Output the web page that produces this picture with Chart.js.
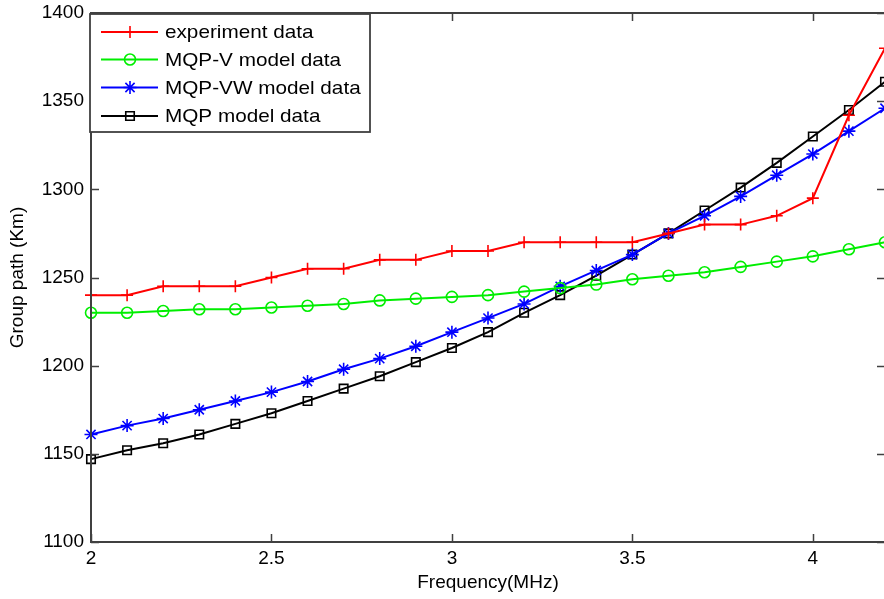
<!DOCTYPE html>
<html><head><meta charset="utf-8">
<script src="https://cdn.jsdelivr.net/npm/chart.js@4/dist/chart.umd.min.js"></script>
<style>
html,body{margin:0;padding:0;overflow:hidden;background:#fff;}
#wrap{position:relative;width:888px;height:599px;overflow:hidden;}
canvas{display:block;}
</style></head><body>
<div id="wrap"><canvas id="c" width="888" height="599"></canvas></div>
<script>
const frequencies = [2.0,2.1,2.2,2.3,2.4,2.5,2.6,2.7,2.8,2.9,3.0,3.1,3.2,3.3,3.4,3.5,3.6,3.7,3.8,3.9,4.0,4.1,4.2];
const experimentData = [1240,1240,1245,1245,1245,1250,1255,1255,1260,1260,1265,1265,1270,1270,1270,1270,1275,1280,1280,1285,1295,1342,1380];
const mqpVData  = [1230,1230,1231,1232,1232,1233,1234,1235,1237,1238,1239,1240,1242,1244,1246,1249,1251,1253,1256,1259,1262,1266,1270];
const mqpVWData = [1161,1166,1170,1175,1180,1185,1191,1198,1204,1211,1219,1227,1235,1245,1254,1263,1275,1285,1296,1308,1320,1333,1346];
const mqpData   = [1147,1152,1156,1161,1167,1173,1180,1187,1194,1202,1210,1219,1230,1240,1251,1263,1275,1288,1301,1315,1330,1345,1361];
const xTickValues = [2, 2.5, 3, 3.5, 4];
const yTickValues = [1100, 1150, 1200, 1250, 1300, 1350, 1400];
const seriesNames = ['experiment data', 'MQP-V model data', 'MQP-VW model data', 'MQP model data'];
const xTitle = 'Frequency(MHz)';
const yTitle = 'Group path (Km)';

const FONT = '"Liberation Sans", Arial, sans-serif';
const AXIS_COLOR = '#404040';

function pts(vals){ return frequencies.map((f,i)=>({x:f,y:vals[i]})); }

const styles = [
  {color:'#ff0000', pointStyle:'cross', radius:6},
  {color:'#00ee00', pointStyle:'circle', radius:5.5},
  {color:'#0000ff', pointStyle:'star', radius:6.5},
  {color:'#000000', pointStyle:'rect', radius:6}
];
const seriesData = [experimentData, mqpVData, mqpVWData, mqpData];

const datasets = seriesData.map((d,i)=>({
  label: seriesNames[i],
  data: pts(d),
  borderColor: styles[i].color,
  backgroundColor: 'rgba(0,0,0,0)',
  borderWidth: 2,
  pointStyle: styles[i].pointStyle,
  pointRadius: styles[i].radius,
  pointBorderWidth: 1.6,
  pointBorderColor: styles[i].color,
  pointBackgroundColor: 'rgba(0,0,0,0)',
  tension: 0,
  clip: false
}));

function drawMarker(ctx, style, x, y, r){
  ctx.beginPath();
  if (style === 'cross' || style === 'star') {
    ctx.moveTo(x - r, y); ctx.lineTo(x + r, y);
    ctx.moveTo(x, y - r); ctx.lineTo(x, y + r);
    if (style === 'star') {
      const d = r * Math.SQRT1_2;
      ctx.moveTo(x - d, y - d); ctx.lineTo(x + d, y + d);
      ctx.moveTo(x - d, y + d); ctx.lineTo(x + d, y - d);
    }
  } else if (style === 'circle') {
    ctx.arc(x, y, r, 0, Math.PI * 2);
  } else if (style === 'rect') {
    const s = r * Math.SQRT1_2;
    ctx.rect(x - s, y - s, 2 * s, 2 * s);
  }
  ctx.stroke();
}

const framePlugin = {
  id: 'frame',
  afterDatasetsDraw(chart){
    const ctx = chart.ctx, a = chart.chartArea;
    const xs = chart.scales.x, ys = chart.scales.y;
    ctx.save();
    ctx.strokeStyle = AXIS_COLOR;
    ctx.lineWidth = 2;
    ctx.strokeRect(a.left, a.top, a.right - a.left, a.bottom - a.top);
    ctx.lineWidth = 1.5;
    const tl = 8;
    ctx.beginPath();
    xTickValues.forEach(v=>{
      const px = Math.round(xs.getPixelForValue(v)) + 0.5;
      ctx.moveTo(px, a.bottom); ctx.lineTo(px, a.bottom - tl);
      ctx.moveTo(px, a.top); ctx.lineTo(px, a.top + tl);
    });
    yTickValues.forEach(v=>{
      const py = Math.round(ys.getPixelForValue(v)) + 0.5;
      ctx.moveTo(a.left, py); ctx.lineTo(a.left + tl, py);
      ctx.moveTo(a.right, py); ctx.lineTo(a.right - tl, py);
    });
    ctx.stroke();

    // legend box (MATLAB style, inside the axes at top-left)
    const lx = a.left - 1, ly = a.top + 1, lw = 280, lh = 118;
    ctx.fillStyle = '#ffffff';
    ctx.fillRect(lx, ly, lw, lh);
    ctx.strokeStyle = AXIS_COLOR;
    ctx.lineWidth = 1.8;
    ctx.strokeRect(lx, ly, lw, lh);
    const rows = [32, 59.5, 87.5, 116];
    ctx.font = '19px ' + FONT;
    ctx.textBaseline = 'middle';
    ctx.textAlign = 'left';
    chart.data.datasets.forEach((ds, i)=>{
      const y = rows[i];
      ctx.strokeStyle = ds.borderColor;
      ctx.lineWidth = 2;
      ctx.beginPath(); ctx.moveTo(101, y); ctx.lineTo(158, y); ctx.stroke();
      ctx.lineWidth = 1.6;
      drawMarker(ctx, ds.pointStyle, 130, y, ds.pointRadius);
      ctx.fillStyle = '#000';
      ctx.save();
      ctx.translate(165, y + 1);
      ctx.scale(1.09, 1);
      ctx.fillText(ds.label, 0, 0);
      ctx.restore();
    });
    ctx.restore();
  }
};

new Chart(document.getElementById('c'), {
  type: 'line',
  data: { datasets },
  options: {
    responsive: false,
    maintainAspectRatio: false,
    devicePixelRatio: 1,
    animation: false,
    layout: { autoPadding: false, padding: { top: 13, right: 3, bottom: 0, left: 0 } },
    plugins: { legend: { display: false }, tooltip: { enabled: false } },
    scales: {
      x: {
        type: 'linear', position: 'bottom', min: 2, max: 4.2,
        grid: { display: false, drawTicks: false },
        border: { display: false },
        afterBuildTicks: s => { s.ticks = xTickValues.map(v=>({value:v})); },
        afterFit: s => { s.height = 57; s.paddingLeft = 0; s.paddingRight = 0; },
        ticks: { font: { family: FONT, size: 19 }, color: '#000', padding: 5, maxRotation: 0,
                 callback: v => String(v) },
        title: { display: true, text: xTitle, color: '#000', font: { family: FONT, size: 19 },
                 padding: { top: 0, bottom: 5 } }
      },
      y: {
        type: 'linear', position: 'left', min: 1100, max: 1400,
        grid: { display: false, drawTicks: false },
        border: { display: false },
        afterBuildTicks: s => { s.ticks = yTickValues.map(v=>({value:v})); },
        afterFit: s => { s.width = 91; s.paddingTop = 0; s.paddingBottom = 0; },
        ticks: { font: { family: FONT, size: 19 }, color: '#000', padding: 7,
                 callback: v => String(v) },
        title: { display: true, text: yTitle, color: '#000', font: { family: FONT, size: 19 },
                 padding: { top: 6, bottom: 0 } }
      }
    }
  },
  plugins: [framePlugin]
});
</script>
</body></html>
